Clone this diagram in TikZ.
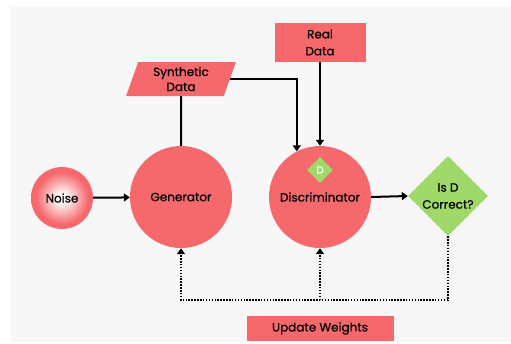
\documentclass[tikz,border=0pt]{standalone}
\usepackage{fontspec}
\setmainfont{Poppins}[BoldFont={Poppins}, BoldFeatures={FakeBold=0.45}]
\usetikzlibrary{arrows.meta,shapes.geometric}
\definecolor{nred}{RGB}{245,104,108}
\definecolor{ngreen}{RGB}{161,216,106}
\definecolor{pagebg}{RGB}{247,247,247}
\pgfdeclareradialshading{noiseglow}{\pgfpoint{0bp}{0bp}}{%
  color(0bp)=(white); color(3bp)=(white); color(21bp)=(nred); color(50bp)=(nred)}
\tikzset{
  txt/.style={font=\fontsize{12}{16}\selectfont\bfseries},
  blob/.style={circle, fill=nred, inner sep=0pt, txt},
  databox/.style={rectangle, fill=nred, inner sep=0pt, align=center, txt},
  gem/.style={diamond, fill=ngreen, inner sep=0pt, align=center, txt},
  flow/.style={line width=2pt, -{Triangle[width=8pt,length=6pt]}},
  plain/.style={line width=2pt},
  fback/.style={line width=1.7pt, dash pattern=on 1.5pt off 1.4pt, -{Triangle[width=8pt,length=6pt]}}
}
\begin{document}
\begin{tikzpicture}[x=1pt, y=-1pt]
  \useasboundingbox (0,0) rectangle (511,343);
  \fill[pagebg] (11,7) rectangle (511,342);

  % nodes
  \node[circle, inner sep=0pt, minimum size=62pt, shading=noiseglow, txt] (noise) at (62,198) {Noise};
  \node[blob, minimum size=102pt] (gen) at (181,197) {Generator};
  \node[blob, minimum size=102pt] (disc) at (320,197) {Discriminator};
  \node[gem, minimum width=26pt, minimum height=26pt, text=white,
        font=\fontsize{10.5}{12}\selectfont\bfseries] (dmark) at (320,170) {D};
  \node[gem, minimum width=80pt, minimum height=80pt,
        font=\fontsize{12}{17}\selectfont\bfseries] (isd) at (448,196) {Is D\\Correct?};
  \node[databox, trapezium, trapezium left angle=72, trapezium right angle=108,
        trapezium stretches=true, minimum width=110pt, minimum height=34pt,
        font=\fontsize{12}{15}\selectfont\bfseries]
        (syn) at (181,79) {Synthetic\\Data};
  \node[databox, minimum width=91pt, minimum height=39pt,
        font=\fontsize{12}{17}\selectfont\bfseries] (real) at (320,42.5) {Real\\Data};
  \node[databox, minimum width=147pt, minimum height=25pt] (upd) at (320,328.5) {Update Weights};
  \coordinate (loop) at (0,300);

  % forward connections
  \draw[flow] (noise) -- (gen);
  \draw[plain] (syn.south) -- (gen.north);
  \draw[flow] (syn.east) -| (disc.117);
  \draw[flow] (real.south) -- (disc.north);
  \draw[flow] (disc.east) -- (isd.west);

  % weight-update feedback
  \draw[fback] (isd.south) -- (isd.south |- loop) -- (gen.south |- loop) -- (gen.south);
  \draw[fback] (disc.south |- loop) -- (disc.south);
\end{tikzpicture}
\end{document}
